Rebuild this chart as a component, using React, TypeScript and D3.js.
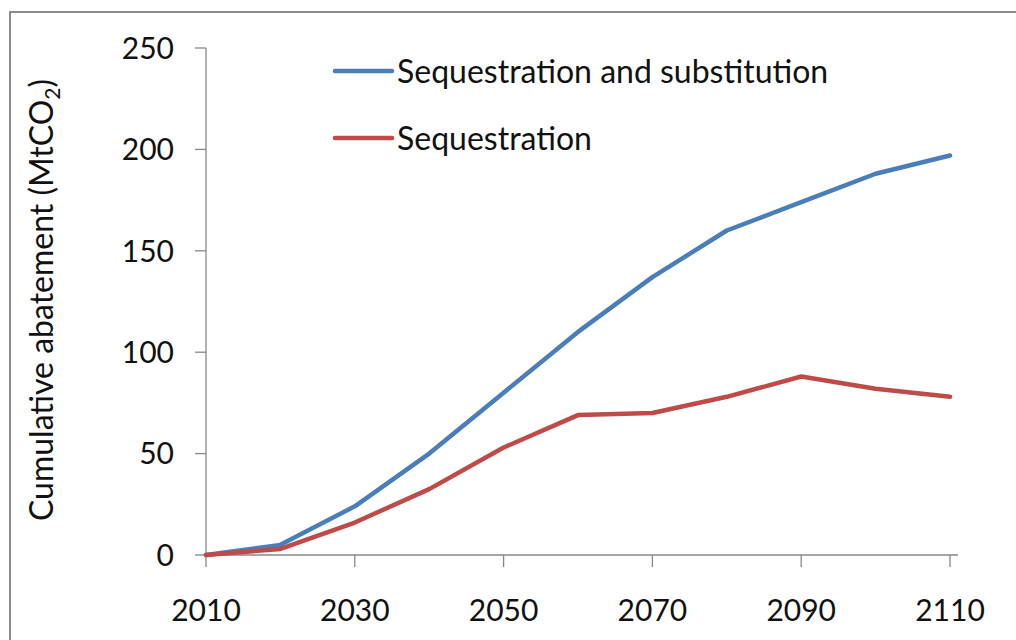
import React from 'react';
import * as d3 from 'd3';

// Values
const years = [2010, 2020, 2030, 2040, 2050, 2060, 2070, 2080, 2090, 2100, 2110];
const seqAndSub = [0, 5, 24, 50, 80, 110, 137, 160, 174, 188, 197];
const seqOnly = [0, 3, 16, 32.5, 53, 69, 70, 78, 88, 82, 78];
const xTicks = [2010, 2030, 2050, 2070, 2090, 2110];
const yTicks = [0, 50, 100, 150, 200, 250];

const seriesNames = ['Sequestration and substitution', 'Sequestration'];
const seriesColors = ['#4a7ebb', '#be4b48'];

const W = 1016;
const H = 640;
const FONT = 'Lato, "Open Sans", sans-serif';
const axisColor = '#888888';

const App = () => {
    const x = d3.scaleLinear().domain([2010, 2110]).range([206, 950]);
    const y = d3.scaleLinear().domain([0, 250]).range([555, 48]);

    const line = d3.line<number>()
        .x((_, i) => x(years[i]))
        .y(d => y(d));

    const allSeries = [seqAndSub, seqOnly];

    return (
        <svg
            width={W}
            height={H}
            style={{ position: 'absolute', left: 0, top: 0, background: '#fff' }}
            fontFamily={FONT}
        >
            {/* chart frame, runs off the picture on the right and bottom */}
            <rect x={10} y={12} width={1030} height={660} fill="none" stroke="#8c8c8c" strokeWidth={2} />

            {/* y axis */}
            <line x1={x(2010)} x2={x(2010)} y1={y(250)} y2={y(0)} stroke={axisColor} strokeWidth={1.3} />
            {yTicks.map(t => (
                <g key={t}>
                    <line x1={x(2010) - 11} x2={x(2010)} y1={y(t)} y2={y(t)} stroke={axisColor} strokeWidth={1.3} />
                    <text x={174} y={y(t)} dy="0.36em" textAnchor="end" fontSize={30} fill="#111">{t}</text>
                </g>
            ))}

            {/* x axis */}
            <line x1={x(2010)} x2={958} y1={y(0)} y2={y(0)} stroke={axisColor} strokeWidth={1.3} />
            {xTicks.map(t => (
                <g key={t}>
                    <line x1={x(t)} x2={x(t)} y1={y(0)} y2={y(0) + 12} stroke={axisColor} strokeWidth={1.3} />
                    <text x={x(t)} y={621} textAnchor="middle" fontSize={30} fill="#111">{t}</text>
                </g>
            ))}

            {/* y axis title */}
            <text
                transform={`translate(53, 300) rotate(-90)`}
                textAnchor="middle"
                fontSize={32}
                fill="#111"
            >
                Cumulative abatement (MtCO<tspan fontSize={21} dy={7}>2</tspan><tspan dy={-7}>)</tspan>
            </text>

            {/* series */}
            {allSeries.map((s, i) => (
                <path
                    key={i}
                    d={line(s) || ''}
                    fill="none"
                    stroke={seriesColors[i]}
                    strokeWidth={4.5}
                    strokeLinejoin="round"
                    strokeLinecap="round"
                />
            ))}

            {/* legend */}
            {seriesNames.map((name, i) => {
                const ly = 71 + i * 67;
                return (
                    <g key={name}>
                        <line x1={335} x2={392} y1={ly} y2={ly} stroke={seriesColors[i]} strokeWidth={4.5} strokeLinecap="round" />
                        <text x={397} y={ly} dy="0.36em" fontSize={32} fill="#111">{name}</text>
                    </g>
                );
            })}
        </svg>
    );
};

export default App;
